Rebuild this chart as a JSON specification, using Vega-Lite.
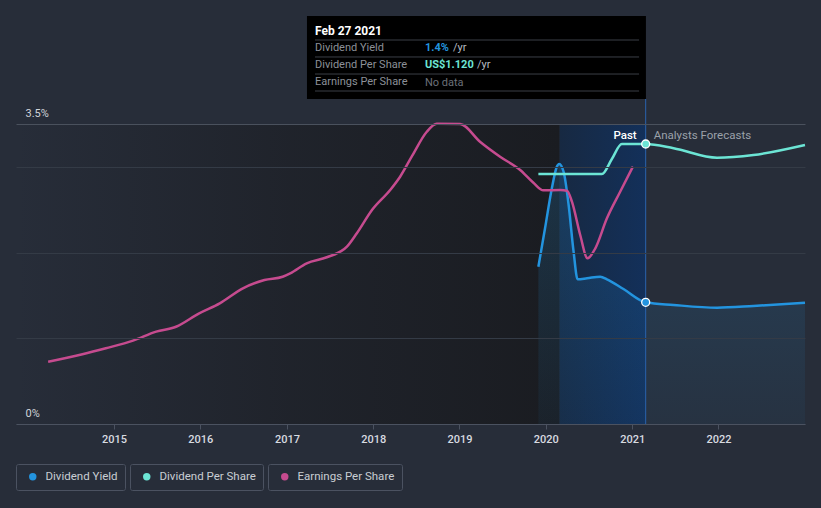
{
  "$schema": "https://vega.github.io/schema/vega-lite/v6.json",
  "width": 789,
  "height": 408,
  "autosize": {"type": "none"},
  "padding": {"left": 16, "top": 16, "right": 16, "bottom": 84},
  "background": "#272d39",
  "config": {
    "view": {"stroke": null},
    "font": "Roboto",
    "legend": {
      "orient": "none",
      "direction": "horizontal",
      "title": null,
      "strokeColor": "#4b5261",
      "cornerRadius": 2,
      "padding": 7,
      "symbolType": "circle",
      "symbolSize": 55,
      "symbolOffset": 4,
      "labelOffset": 7,
      "labelFontSize": 11.5,
      "labelColor": "#c9cdd3",
      "labelFont": "Roboto"
    }
  },
  "datasets": {
    "yield": [
      {"date": "2019-12-01", "value": 1.835},
      {"date": "2019-12-29", "value": 2.28},
      {"date": "2020-01-27", "value": 2.75},
      {"date": "2020-02-17", "value": 3.0},
      {"date": "2020-02-27", "value": 3.034},
      {"date": "2020-03-17", "value": 2.94},
      {"date": "2020-04-07", "value": 2.555},
      {"date": "2020-04-28", "value": 2.01},
      {"date": "2020-05-15", "value": 1.688},
      {"date": "2020-06-24", "value": 1.70},
      {"date": "2020-08-19", "value": 1.719},
      {"date": "2020-09-16", "value": 1.688},
      {"date": "2020-11-25", "value": 1.575},
      {"date": "2021-02-27", "value": 1.42},
      {"date": "2021-06-25", "value": 1.389},
      {"date": "2021-12-26", "value": 1.357},
      {"date": "2022-05-29", "value": 1.377},
      {"date": "2023-01-02", "value": 1.415}
    ],
    "dps": [
      {"date": "2019-12-01", "value": 1.0},
      {"date": "2020-08-26", "value": 1.0},
      {"date": "2020-10-07", "value": 1.06},
      {"date": "2020-11-18", "value": 1.12},
      {"date": "2021-02-27", "value": 1.12},
      {"date": "2021-06-25", "value": 1.103},
      {"date": "2021-12-26", "value": 1.065},
      {"date": "2022-05-29", "value": 1.076},
      {"date": "2023-01-02", "value": 1.116}
    ],
    "eps": [
      {"date": "2014-03-28", "value": 0.831},
      {"date": "2014-08-20", "value": 0.929},
      {"date": "2014-11-27", "value": 1.009},
      {"date": "2015-03-22", "value": 1.111},
      {"date": "2015-06-28", "value": 1.231},
      {"date": "2015-09-20", "value": 1.297},
      {"date": "2015-12-27", "value": 1.476},
      {"date": "2016-03-23", "value": 1.609},
      {"date": "2016-06-29", "value": 1.809},
      {"date": "2016-09-28", "value": 1.92},
      {"date": "2016-12-14", "value": 1.964},
      {"date": "2017-01-15", "value": 2.009},
      {"date": "2017-03-26", "value": 2.143},
      {"date": "2017-06-19", "value": 2.223},
      {"date": "2017-09-12", "value": 2.364},
      {"date": "2017-10-24", "value": 2.543},
      {"date": "2017-12-27", "value": 2.853},
      {"date": "2018-03-14", "value": 3.12},
      {"date": "2018-04-25", "value": 3.297},
      {"date": "2018-06-13", "value": 3.564},
      {"date": "2018-08-16", "value": 3.897},
      {"date": "2018-09-27", "value": 4.004},
      {"date": "2019-01-04", "value": 4.0},
      {"date": "2019-03-29", "value": 3.764},
      {"date": "2019-06-22", "value": 3.564},
      {"date": "2019-09-15", "value": 3.387},
      {"date": "2019-11-10", "value": 3.217},
      {"date": "2019-12-22", "value": 3.116},
      {"date": "2020-03-03", "value": 3.12},
      {"date": "2020-03-31", "value": 3.111},
      {"date": "2020-04-21", "value": 2.964},
      {"date": "2020-05-26", "value": 2.52},
      {"date": "2020-06-26", "value": 2.209},
      {"date": "2020-07-29", "value": 2.343},
      {"date": "2020-09-16", "value": 2.743},
      {"date": "2020-11-11", "value": 3.097},
      {"date": "2021-01-04", "value": 3.431}
    ],
    "current": [
      {"date": "2021-02-27", "yield": 1.42, "dps": 1.12}
    ]
  },
  "encoding": {
    "x": {
      "field": "date",
      "type": "temporal",
      "scale": {"domain": [{"year": 2013, "month": 11, "date": 12}, {"year": 2023, "month": 1, "date": 2}]},
      "axis": {
        "values": [{"year": 2015}, {"year": 2016}, {"year": 2017}, {"year": 2018}, {"year": 2019}, {"year": 2020}, {"year": 2021}, {"year": 2022}],
        "format": "%Y",
        "title": null,
        "grid": false,
        "domainColor": "#4b5260",
        "tickColor": "#4b5260",
        "tickSize": 5,
        "labelColor": "#d8dbe0",
        "labelFontSize": 11,
        "labelFontWeight": 500,
        "labelPadding": 4,
        "zindex": 1
      }
    }
  },
  "resolve": {"scale": {"y": "independent"}},
  "layer": [
    {
      "data": {"values": [{"date": "2013-11-12", "end": "2020-02-29"}]},
      "mark": {
        "type": "rect",
        "color": {
          "gradient": "linear", "x1": 0, "y1": 0, "x2": 1, "y2": 0,
          "stops": [
            {"offset": 0, "color": "rgba(26,28,33,0)"},
            {"offset": 0.5, "color": "rgba(26,28,33,0.58)"},
            {"offset": 1, "color": "rgba(26,28,33,1)"}
          ]
        }
      },
      "encoding": {
        "x2": {"field": "end"},
        "y": {"datum": 0, "type": "quantitative", "scale": {"domain": [0, 4.76], "nice": false}, "axis": null},
        "y2": {"datum": 3.5}
      }
    },
    {
      "data": {"values": [{"date": "2020-02-29", "end": "2021-02-27"}]},
      "mark": {
        "type": "rect",
        "color": {
          "gradient": "linear", "x1": 0, "y1": 0, "x2": 1, "y2": 0,
          "stops": [
            {"offset": 0, "color": "#172942"},
            {"offset": 1, "color": "#13305a"}
          ]
        }
      },
      "encoding": {
        "x2": {"field": "end"},
        "y": {"datum": 0, "type": "quantitative", "scale": {"domain": [0, 4.76], "nice": false}, "axis": null},
        "y2": {"datum": 3.5}
      }
    },
    {
      "data": {"name": "yield"},
      "mark": {
        "type": "area",
        "interpolate": "monotone",
        "color": {
          "gradient": "linear", "x1": 0, "y1": 0, "x2": 0, "y2": 1,
          "stops": [
            {"offset": 0, "color": "rgba(35,148,223,0.2)"},
            {"offset": 1, "color": "rgba(35,148,223,0.05)"}
          ]
        }
      },
      "encoding": {
        "y": {
          "field": "value",
          "type": "quantitative",
          "scale": {"domain": [0, 4.76], "nice": false},
          "axis": {
            "orient": "left",
            "values": [0, 1, 2, 3, 3.5],
            "labelExpr": "datum.value === 0 ? '0%' : (datum.value === 3.5 ? '3.5%' : '')",
            "title": null,
            "domain": false,
            "ticks": false,
            "grid": true,
            "gridColor": {"condition": {"test": "datum.value === 3.5", "value": "#4a515d"}, "value": "#343b46"},
            "labelAlign": "left",
            "labelBaseline": "alphabetic",
            "labelPadding": -9,
            "labelOffset": -8,
            "labelColor": "#d0d4da",
            "labelFontSize": 11,
            "zindex": 1
          }
        }
      }
    },
    {
      "data": {"name": "yield"},
      "mark": {"type": "line", "interpolate": "monotone", "strokeWidth": 2.5},
      "encoding": {
        "y": {"field": "value", "type": "quantitative", "scale": {"domain": [0, 4.76], "nice": false}, "axis": null},
        "color": {
          "datum": "Dividend Yield",
          "scale": {"domain": ["Dividend Yield"], "range": ["#2394df"]},
          "legend": {
            "legendX": 0, "legendY": 448,
            "encode": {"symbols": {"update": {"fill": {"value": "#2394df"}, "stroke": {"value": "#2394df"}, "strokeWidth": {"value": 0}}}}
          }
        }
      }
    },
    {
      "data": {"values": [{"date": "2021-02-27"}]},
      "mark": {"type": "rule", "color": "#2a62ad", "strokeWidth": 1},
      "encoding": {
        "y": {"datum": 0, "type": "quantitative", "scale": {"domain": [0, 4.76], "nice": false}, "axis": null},
        "y2": {"datum": 3.792}
      }
    },
    {
      "data": {"name": "dps"},
      "mark": {"type": "line", "interpolate": "monotone", "strokeWidth": 2.5},
      "encoding": {
        "y": {"field": "value", "type": "quantitative", "scale": {"domain": [0, 1.632], "nice": false}, "axis": null},
        "stroke": {
          "datum": "Dividend Per Share",
          "scale": {"domain": ["Dividend Per Share"], "range": ["#6ce5d5"]},
          "legend": {
            "legendX": 114, "legendY": 448,
            "encode": {"symbols": {"update": {"fill": {"value": "#6ce5d5"}, "stroke": {"value": "#6ce5d5"}, "strokeWidth": {"value": 0}}}}
          }
        }
      }
    },
    {
      "data": {"name": "eps"},
      "mark": {"type": "line", "interpolate": "monotone", "strokeWidth": 2.5, "color": "#c64b8f"},
      "encoding": {
        "y": {"field": "value", "type": "quantitative", "scale": {"domain": [0, 5.44], "nice": false}, "axis": null},
        "opacity": {
          "datum": "Earnings Per Share",
          "type": "nominal",
          "scale": {"domain": ["Earnings Per Share"], "range": [1]},
          "legend": {
            "legendX": 252, "legendY": 448,
            "symbolFillColor": "#c64b8f",
            "symbolStrokeColor": "#c64b8f",
            "encode": {"symbols": {"update": {"fill": {"value": "#c64b8f"}, "stroke": {"value": "#c64b8f"}, "strokeWidth": {"value": 0}, "opacity": {"value": 1}}}}
          }
        }
      }
    },
    {
      "data": {"name": "current"},
      "mark": {"type": "point", "filled": true, "fill": "#6ce5d5", "stroke": "#ffffff", "strokeWidth": 1.3, "size": 64, "opacity": 1},
      "encoding": {
        "y": {"field": "dps", "type": "quantitative", "scale": {"domain": [0, 1.632], "nice": false}, "axis": null}
      }
    },
    {
      "data": {"name": "current"},
      "mark": {"type": "point", "filled": true, "fill": "#2394df", "stroke": "#ffffff", "strokeWidth": 1.3, "size": 64, "opacity": 1},
      "encoding": {
        "y": {"field": "yield", "type": "quantitative", "scale": {"domain": [0, 4.76], "nice": false}, "axis": null}
      }
    },
    {
      "data": {"values": [{"date": "2021-02-27", "label": "Past"}]},
      "mark": {"type": "text", "align": "right", "baseline": "middle", "dx": -9, "fontSize": 11.5, "fontWeight": 500, "color": "#ffffff"},
      "encoding": {
        "y": {"datum": 3.36, "type": "quantitative", "scale": {"domain": [0, 4.76], "nice": false}, "axis": null},
        "text": {"field": "label"}
      }
    },
    {
      "data": {"values": [{"date": "2021-02-27", "label": "Analysts Forecasts"}]},
      "mark": {"type": "text", "align": "left", "baseline": "middle", "dx": 8, "fontSize": 11.5, "color": "#9ba1aa"},
      "encoding": {
        "y": {"datum": 3.36, "type": "quantitative", "scale": {"domain": [0, 4.76], "nice": false}, "axis": null},
        "text": {"field": "label"}
      }
    },
    {
      "data": {"values": [{"date": "2017-03-27", "end": "2021-02-28"}]},
      "mark": {"type": "rect", "color": "#000000", "clip": false},
      "encoding": {
        "x2": {"field": "end"},
        "y": {"datum": 3.792, "type": "quantitative", "scale": {"domain": [0, 4.76], "nice": false}, "axis": null},
        "y2": {"datum": 4.76}
      }
    },
    {
      "data": {"values": [
        {"date": "2017-04-30", "end": "2021-01-30", "level": 4.48},
        {"date": "2017-04-30", "end": "2021-01-30", "level": 4.282},
        {"date": "2017-04-30", "end": "2021-01-30", "level": 4.083},
        {"date": "2017-04-30", "end": "2021-01-30", "level": 3.885}
      ]},
      "mark": {"type": "rule", "color": "#3b3f46", "strokeWidth": 1},
      "encoding": {
        "x2": {"field": "end"},
        "y": {"field": "level", "type": "quantitative", "scale": {"domain": [0, 4.76], "nice": false}, "axis": null}
      }
    },
    {
      "data": {"values": [{"date": "2017-04-30", "title": "Feb 27 2021"}]},
      "mark": {"type": "text", "align": "left", "baseline": "middle", "fontSize": 12, "fontWeight": "bold", "color": "#ffffff"},
      "encoding": {
        "y": {"datum": 4.585, "type": "quantitative", "scale": {"domain": [0, 4.76], "nice": false}, "axis": null},
        "text": {"field": "title"}
      }
    },
    {
      "data": {"values": [{"date": "2017-04-30", "label": "Dividend Yield\nDividend Per Share\nEarnings Per Share"}]},
      "mark": {"type": "text", "align": "left", "baseline": "middle", "fontSize": 11, "color": "#8c9098", "lineBreak": "\n", "lineHeight": 17},
      "encoding": {
        "y": {"datum": 4.381, "type": "quantitative", "scale": {"domain": [0, 4.76], "nice": false}, "axis": null},
        "text": {"field": "label"}
      }
    },
    {
      "data": {"values": [{"date": "2018-08-08", "v": "1.4%"}]},
      "mark": {"type": "text", "align": "left", "baseline": "middle", "fontSize": 11, "fontWeight": "bold", "color": "#2394df"},
      "encoding": {
        "y": {"datum": 4.381, "type": "quantitative", "scale": {"domain": [0, 4.76], "nice": false}, "axis": null},
        "text": {"field": "v"}
      }
    },
    {
      "data": {"values": [{"date": "2018-08-08", "v": "/yr"}]},
      "mark": {"type": "text", "align": "left", "baseline": "middle", "fontSize": 11, "color": "#b8bcc2", "dx": 28},
      "encoding": {
        "y": {"datum": 4.381, "type": "quantitative", "scale": {"domain": [0, 4.76], "nice": false}, "axis": null},
        "text": {"field": "v"}
      }
    },
    {
      "data": {"values": [{"date": "2018-08-08", "v": "US$1.120"}]},
      "mark": {"type": "text", "align": "left", "baseline": "middle", "fontSize": 11, "fontWeight": "bold", "color": "#6ce5d5"},
      "encoding": {
        "y": {"datum": 4.183, "type": "quantitative", "scale": {"domain": [0, 4.76], "nice": false}, "axis": null},
        "text": {"field": "v"}
      }
    },
    {
      "data": {"values": [{"date": "2018-08-08", "v": "/yr"}]},
      "mark": {"type": "text", "align": "left", "baseline": "middle", "fontSize": 11, "color": "#b8bcc2", "dx": 52},
      "encoding": {
        "y": {"datum": 4.183, "type": "quantitative", "scale": {"domain": [0, 4.76], "nice": false}, "axis": null},
        "text": {"field": "v"}
      }
    },
    {
      "data": {"values": [{"date": "2018-08-08", "v": "No data"}]},
      "mark": {"type": "text", "align": "left", "baseline": "middle", "fontSize": 11, "color": "#6b7079"},
      "encoding": {
        "y": {"datum": 3.984, "type": "quantitative", "scale": {"domain": [0, 4.76], "nice": false}, "axis": null},
        "text": {"field": "v"}
      }
    }
  ]
}
